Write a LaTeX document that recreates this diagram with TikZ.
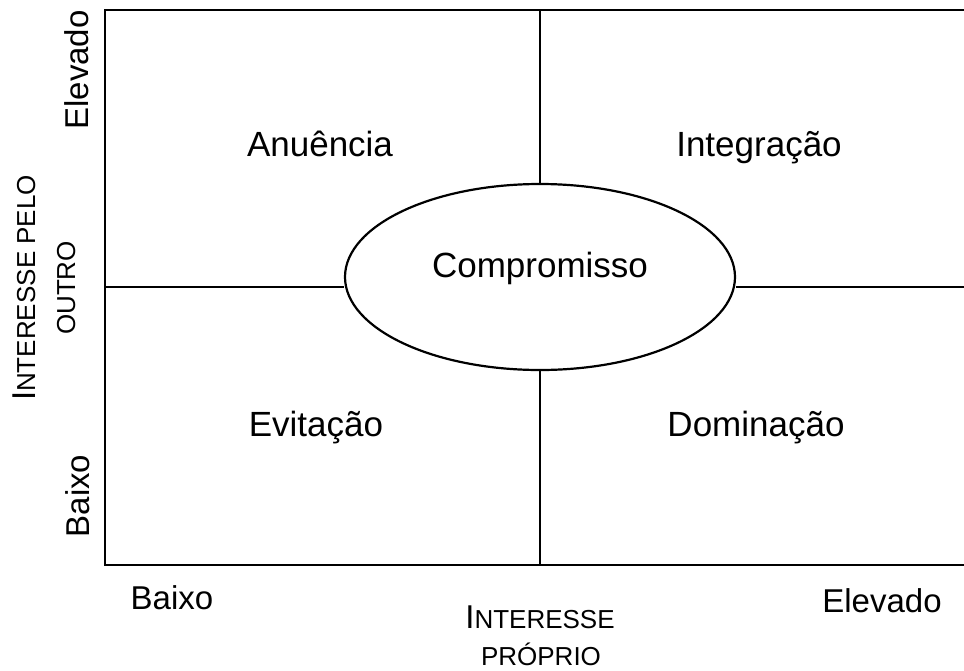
\documentclass[tikz,border=0pt]{standalone}
\usepackage{fontspec}
\setmainfont{Liberation Sans}
\usetikzlibrary{shapes.geometric}
\newcommand{\fakesc}[1]{{\fontsize{26}{30}\selectfont #1}}

\begin{document}
\begin{tikzpicture}[x=1pt, y=-1pt, line width=2.2pt,
            quadlbl/.style={font=\fontsize{35}{40}\selectfont, anchor=base, inner sep=0pt},
            axislbl/.style={font=\fontsize{33}{38}\selectfont, anchor=base, inner sep=0pt}]
            \useasboundingbox (0,0) rectangle (964,670);
            %\draw (0,0) rectangle (964,670);
            \coordinate (tl) at (105,10);
            \coordinate (tr) at (964,10);
            \coordinate (bl) at (105,565);
            \coordinate (br) at (964,565);
            \coordinate (top) at (540,10);
            \coordinate (bot) at (540,565);
            \coordinate (lmid) at (105,287);
            \coordinate (rmid) at (964,287);
            \draw (tr) -- (tl) -- (bl) -- (br);

            \node[ellipse, draw, minimum width=390pt, minimum height=186pt, inner sep=0pt] (comp) at (540,277) {};
            \node[quadlbl] (comptext) at (comp.center) {Compromisso};
            \draw (top) -- (comp.north);
            \draw (comp.south) -- (bot);
            \draw (lmid) -- (comp.west |- lmid);
            \draw (comp.east |- rmid) -- (rmid);

            \node[quadlbl] (anu) at (320,156) {Anuência};
            \node[quadlbl] (integ) at (759,156) {Integração};
            \node[quadlbl] (evit) at (316,436) {Evitação};
            \node[quadlbl] (domin) at (756,436) {Dominação};

            \node[axislbl, rotate=90] (yhigh) at (88,70) {Elevado};
            \node[axislbl, rotate=90] (ylow) at (89,496) {Baixo};
            \node[axislbl, rotate=90] (ytitle) at (35,288) {I\fakesc{NTERESSE PELO}};
            \node[axislbl, rotate=90] (ytitleb) at (75,288) {\fakesc{OUTRO}};

            \node[axislbl] (xlow) at (172,609) {Baixo};
            \node[axislbl] (xhigh) at (882,612) {Elevado};
            \node[axislbl] (xtitle) at (540,628) {I\fakesc{NTERESSE}};
            \node[axislbl] (xtitleb) at (541,665) {\fakesc{PRÓPRIO}};
            \end{tikzpicture}
\end{document}
